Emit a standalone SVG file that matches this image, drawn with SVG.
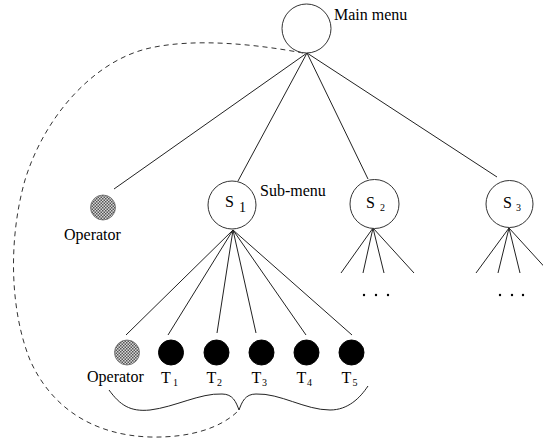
<svg xmlns="http://www.w3.org/2000/svg" width="543" height="438" viewBox="0 0 543 438">
<defs>
<pattern id="hatch" width="3" height="3" patternUnits="userSpaceOnUse">
<rect width="3" height="3" fill="#d8d8d8"/>
<rect x="0" y="0" width="1.5" height="1.5" fill="#555"/>
<rect x="1.5" y="1.5" width="1.5" height="1.5" fill="#555"/>
</pattern>
</defs>
<style>
.ln{stroke:#222;stroke-width:1;fill:none}
.node{fill:#fff;stroke:#333;stroke-width:1}
.op{fill:url(#hatch);stroke:#666;stroke-width:0.8}
.term{fill:#000;stroke:#000}
.lbl{font-family:"Liberation Serif","Times New Roman",serif;font-size:16px;fill:#000}
.sub{font-family:"Liberation Serif","Times New Roman",serif;font-size:10px;fill:#000}
.sub1{font-family:"Liberation Serif","Times New Roman",serif;font-size:14px;fill:#000}
.dash{stroke:#333;stroke-width:1;fill:none;stroke-dasharray:5,4}
</style>
<rect width="543" height="438" fill="#fff"/>
<g id="connectors">
<line class="ln" x1="307" y1="53" x2="114" y2="189"/>
<line class="ln" x1="307" y1="53" x2="238" y2="181"/>
<line class="ln" x1="307" y1="53" x2="368" y2="179"/>
<line class="ln" x1="307" y1="53" x2="497" y2="177"/>
<line class="ln" x1="233" y1="230" x2="126" y2="335"/>
<line class="ln" x1="233" y1="230" x2="168" y2="335"/>
<line class="ln" x1="233" y1="230" x2="217" y2="333"/>
<line class="ln" x1="233" y1="230" x2="256" y2="333"/>
<line class="ln" x1="233" y1="230" x2="306" y2="335"/>
<line class="ln" x1="233" y1="230" x2="352" y2="335"/>
<line class="ln" x1="373" y1="228" x2="341" y2="273"/>
<line class="ln" x1="373" y1="228" x2="363" y2="273"/>
<line class="ln" x1="373" y1="228" x2="384" y2="273"/>
<line class="ln" x1="373" y1="228" x2="414" y2="273"/>
<line class="ln" x1="509" y1="228" x2="476" y2="273"/>
<line class="ln" x1="509" y1="228" x2="498" y2="273"/>
<line class="ln" x1="509" y1="228" x2="520" y2="273"/>
<line class="ln" x1="509" y1="228" x2="550" y2="273"/>
<path class="dash" d="M303,53 C255,44 195,38 150,48 C95,60 45,115 25,180 C8,240 10,310 30,360 C50,405 90,435 150,437 C190,438 220,428 237,412"/>
<path class="ln" d="M109,390 C120,405 130,412 150,410 C175,407 200,393 222,394 C233,394 236,402 239,410 C242,402 245,394 256,394 C280,393 305,410 330,410 C348,410 360,398 368,386"/>
</g>
<g id="main-menu">
<circle class="node" cx="306.5" cy="28.5" r="24.5"/>
<text class="lbl" x="334" y="20">Main menu</text>
</g>
<g id="operator-1">
<circle class="op" cx="103" cy="207.5" r="12.5"/>
<text class="lbl" x="64" y="240">Operator</text>
</g>
<g id="s1">
<circle class="node" cx="232" cy="205" r="24"/>
<text class="lbl" x="225" y="207">S</text>
<text class="sub1" x="239" y="212">1</text>
<text class="lbl" x="260" y="196">Sub-menu</text>
</g>
<g id="s2">
<circle class="node" cx="374.5" cy="204" r="24.5"/>
<text class="lbl" x="366" y="208">S</text>
<text class="sub" x="380" y="211">2</text>
</g>
<g id="s3">
<circle class="node" cx="509.5" cy="204" r="23.5"/>
<text class="lbl" x="503" y="208">S</text>
<text class="sub" x="516" y="211">3</text>
</g>
<g id="dots-s2">
<circle cx="364" cy="295" r="1.2" fill="#000"/>
<circle cx="376" cy="295" r="1.2" fill="#000"/>
<circle cx="388" cy="295" r="1.2" fill="#000"/>
</g>
<g id="dots-s3">
<circle cx="500" cy="295" r="1.2" fill="#000"/>
<circle cx="512" cy="295" r="1.2" fill="#000"/>
<circle cx="523" cy="295" r="1.2" fill="#000"/>
</g>
<g id="operator-2">
<circle class="op" cx="127" cy="352.5" r="12.5"/>
<text class="lbl" x="87" y="382">Operator</text>
</g>
<g id="t1">
<circle class="term" cx="171" cy="352.5" r="12.5"/>
<text class="lbl" x="161" y="383">T</text>
<text class="sub" x="173" y="386">1</text>
</g>
<g id="t2">
<circle class="term" cx="216.5" cy="352.5" r="12.5"/>
<text class="lbl" x="206.5" y="383">T</text>
<text class="sub" x="217" y="386">2</text>
</g>
<g id="t3">
<circle class="term" cx="261.5" cy="352.5" r="12.5"/>
<text class="lbl" x="251.5" y="383">T</text>
<text class="sub" x="262" y="386">3</text>
</g>
<g id="t4">
<circle class="term" cx="306.5" cy="352.5" r="12.5"/>
<text class="lbl" x="296.5" y="383">T</text>
<text class="sub" x="307" y="386">4</text>
</g>
<g id="t5">
<circle class="term" cx="351.5" cy="352.5" r="12.5"/>
<text class="lbl" x="341.5" y="383">T</text>
<text class="sub" x="352.5" y="386">5</text>
</g>
</svg>
